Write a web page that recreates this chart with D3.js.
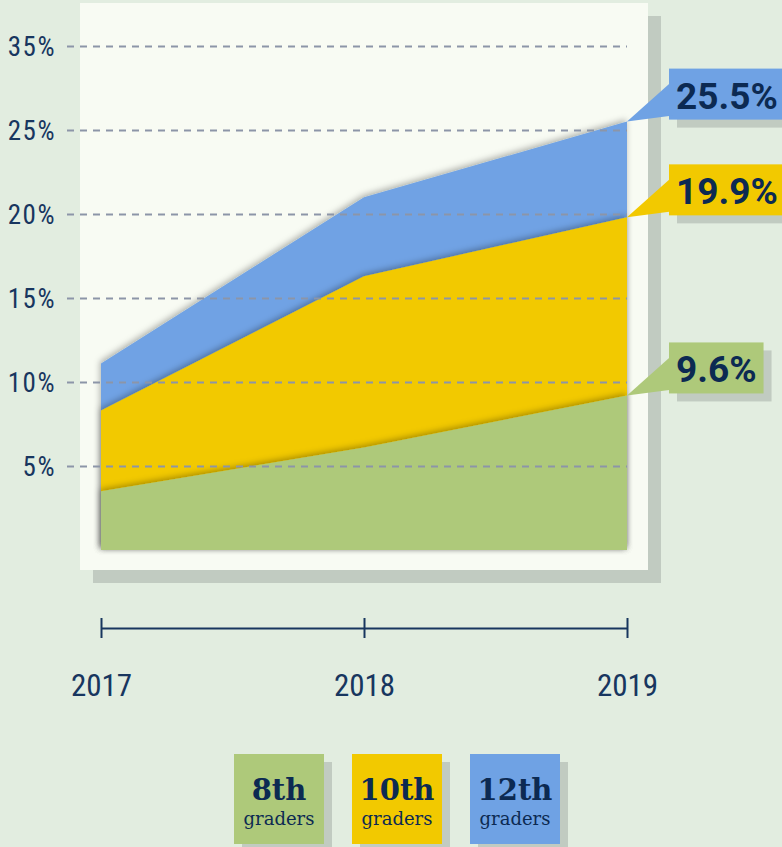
<!DOCTYPE html>
<html><head><meta charset="utf-8">
<script src="https://cdn.jsdelivr.net/npm/d3@7"></script>
<style>
html,body{margin:0;padding:0;background:#e2ede0;}
svg{display:block;}
</style></head>
<body>
<svg id="chart" width="782" height="847"></svg>
<script>
// ---- data ----
const years = [2017, 2018, 2019];
const grade8 = [3.5, 6.1, 9.2];
const grade10 = [8.3, 16.3, 19.8];
const grade12 = [11.1, 21.0, 25.5];
const seriesNames = ["8th", "10th", "12th"];
const calloutLabels = ["9.6%", "19.9%", "25.5%"];
const yTickValues = [5, 10, 15, 20, 25, 30];
const yTickLabels = ["5%", "10%", "15%", "20%", "25%", "35%"];

// ---- styles ----
const colors = {"8th": "#aec97a", "10th": "#f2c900", "12th": "#6fa2e4"};
const panelFill = "#f8fbf3", shadowFill = "#c1cbc1", navy = "#18365f";
const condensed = "'Roboto Condensed','Liberation Sans Narrow','Arial Narrow','DejaVu Sans Condensed',sans-serif";

const svg = d3.select("#chart");
const x = d3.scalePoint().domain(years).range([101, 627]);
const y = d3.scaleLinear().domain([0, 30]).range([550, 46]);

const defs = svg.append("defs");
const f = defs.append("filter").attr("id", "ash").attr("x", "-10%").attr("y", "-10%").attr("width", "120%").attr("height", "120%");
f.append("feDropShadow").attr("dx", -1).attr("dy", -2).attr("stdDeviation", 3)
  .attr("flood-color", "#000").attr("flood-opacity", 0.3);

// panel + shadow
svg.append("rect").attr("x", 93).attr("y", 16).attr("width", 568).attr("height", 567).attr("fill", shadowFill);
svg.append("rect").attr("x", 80).attr("y", 3).attr("width", 568).attr("height", 567).attr("fill", panelFill);

// areas (overlapping, drawn largest first)
const seriesData = {"8th": grade8, "10th": grade10, "12th": grade12};
const area = d3.area().x((d, i) => x(years[i])).y0(y(0)).y1(d => y(d));
["12th", "10th", "8th"].forEach(k => {
  svg.append("path").datum(seriesData[k]).attr("d", area)
    .attr("fill", colors[k]).attr("filter", "url(#ash)");
});

// y axis with dashed grid
const yAxis = d3.axisLeft(y).tickValues(yTickValues)
  .tickFormat((d, i) => yTickLabels[i])
  .tickSize(-(627 - 67)).tickPadding(11);
const gy = svg.append("g").attr("transform", "translate(67,0)").call(yAxis);
gy.select(".domain").remove();
gy.selectAll(".tick line").attr("stroke", "#8c95a8").attr("stroke-width", 2).attr("stroke-dasharray", "7,6");
gy.selectAll(".tick text").attr("fill", navy).attr("font-family", condensed).attr("font-size", 27)
  .attr("letter-spacing", 1.5).attr("dy", "0.36em");

// x axis
const xAxis = d3.axisBottom(x).tickSizeOuter(0).tickSizeInner(10).tickPadding(36);
const gx = svg.append("g").attr("transform", "translate(0,628)").call(xAxis);
gx.select(".domain").attr("stroke", navy).attr("stroke-width", 2.2);
gx.selectAll(".tick line").attr("stroke", navy).attr("stroke-width", 2).attr("y1", -10).attr("y2", 10);
gx.selectAll(".tick text").attr("fill", navy).attr("font-family", condensed).attr("font-size", 31);

// callouts
const lastVals = ["8th", "10th", "12th"].map(k => seriesData[k][years.length - 1]);
const bx = x(2019) + 42, bh = 51;
lastVals.forEach((v, i) => {
  const k = seriesNames[i];
  const tipY = y(v), top = tipY - 53;
  const g = svg.append("g");
  const shadowR = g.append("rect").attr("fill", shadowFill);
  const box = g.append("rect").attr("fill", colors[k]);
  g.append("polygon").attr("fill", colors[k])
    .attr("points", [[x(2019), tipY], [bx + 4, top + 12], [bx + 4, top + bh - 4]].map(p => p.join(",")).join(" "));
  const t = g.append("text").attr("x", bx + 7).attr("y", top + 40)
    .attr("font-family", "Roboto, 'Liberation Sans', sans-serif").attr("font-weight", 700)
    .attr("font-size", 37).attr("fill", "#0c2a52").text(calloutLabels[i]);
  const w = t.node().getComputedTextLength() + 14;
  box.attr("x", bx).attr("y", top).attr("width", w).attr("height", bh);
  shadowR.attr("x", bx + 8).attr("y", top + 8).attr("width", w).attr("height", bh);
});

// legend
const lx = d3.scaleBand().domain(seriesNames).range([234, 560]).paddingInner(28 / 118).paddingOuter(0);
const lg = svg.append("g");
seriesNames.forEach(k => {
  const g = lg.append("g").attr("transform", `translate(${lx(k)},754)`);
  const bw = lx.bandwidth();
  g.append("rect").attr("x", 8).attr("y", 8).attr("width", bw).attr("height", bw).attr("fill", shadowFill);
  g.append("rect").attr("width", bw).attr("height", bw).attr("fill", colors[k]);
  g.append("text").attr("x", bw / 2).attr("y", 46).attr("text-anchor", "middle")
    .attr("font-family", "'Roboto Slab','DejaVu Serif',serif").attr("font-weight", 700)
    .attr("font-size", 29).attr("fill", "#0c2a52").text(k);
  g.append("text").attr("x", bw / 2).attr("y", 71).attr("text-anchor", "middle")
    .attr("font-family", "'Roboto Slab','DejaVu Serif',serif")
    .attr("font-size", 18).attr("fill", "#0c2a52").text("graders");
});
</script>
</body></html>
